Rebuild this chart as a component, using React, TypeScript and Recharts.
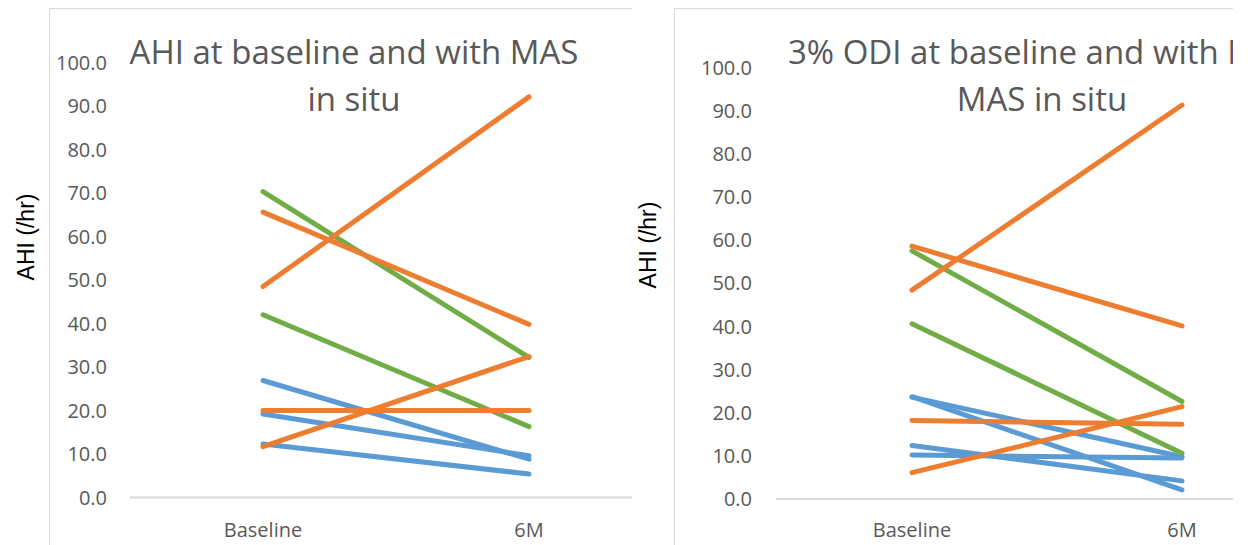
import { LineChart, Line, XAxis, YAxis } from 'recharts';

// ── Data ──────────────────────────────────────────────────────────────────────

const categories = ['Baseline', '6M'];
const yTicks = [0, 10, 20, 30, 40, 50, 60, 70, 80, 90, 100];

// AHI (/hr) per patient, baseline vs 6 months
const ahiBaseline = [26.9, 19.2, 12.3, 70.3, 42.0, 65.6, 48.5, 20.0, 11.7];
const ahi6M = [8.8, 9.6, 5.4, 32.2, 16.3, 39.8, 92.1, 20.0, 32.4];
const ahiGroup = ['A', 'A', 'A', 'B', 'B', 'C', 'C', 'C', 'C'];

// 3% ODI per patient, baseline vs 6 months
const odiBaseline = [23.7, 23.6, 12.4, 10.2, 57.5, 40.6, 48.4, 58.6, 18.2, 6.1];
const odi6M = [2.1, 9.8, 4.2, 9.5, 22.6, 10.6, 91.3, 40.1, 17.3, 21.4];
const odiGroup = ['A', 'A', 'A', 'A', 'B', 'B', 'C', 'C', 'C', 'C'];

// ── Styling ───────────────────────────────────────────────────────────────────

const GROUP_COLOR: Record<string, string> = {
  A: '#5B9BD5',
  B: '#70AD47',
  C: '#ED7D31',
};
const GROUP_ORDER = ['A', 'B', 'C'];
const BORDER = '#D9D9D9';
const TEXT = '#595959';
const FONT = '"Open Sans", sans-serif';

function toRows(base: number[], follow: number[]) {
  return categories.map((name, c) => {
    const row: Record<string, number | string> = { name };
    base.forEach((_, i) => {
      row[`p${i}`] = c === 0 ? base[i] : follow[i];
    });
    return row;
  });
}

interface PairedProps {
  base: number[];
  follow: number[];
  group: string[];
  width: number;
  top: number;
  axisWidth: number;
  xAxisHeight: number;
  padLeft: number;
  padRight: number;
  tickGap: number;
  xTickGap: number;
}

function PairedChart({
  base, follow, group, width, top, axisWidth, xAxisHeight, padLeft, padRight, tickGap, xTickGap,
}: PairedProps) {
  const rows = toRows(base, follow);
  // draw blue first, then green, orange on top
  const order = base
    .map((_, i) => i)
    .sort((a, b) => GROUP_ORDER.indexOf(group[a]) - GROUP_ORDER.indexOf(group[b]));

  return (
    <LineChart width={width} height={545} data={rows} margin={{ top, right: 0, bottom: 0, left: 0 }}>
      <XAxis
        dataKey="name"
        height={xAxisHeight}
        padding={{ left: padLeft, right: padRight }}
        axisLine={{ stroke: BORDER, strokeWidth: 2 }}
        tickLine={false}
        tickSize={0}
        tickMargin={xTickGap}
        tick={{ fill: TEXT, fontSize: 20, fontFamily: FONT }}
      />
      <YAxis
        width={axisWidth}
        domain={[0, 100]}
        ticks={yTicks}
        interval={0}
        axisLine={false}
        tickLine={false}
        tickSize={0}
        tickMargin={tickGap}
        tickFormatter={(v: number) => v.toFixed(1)}
        tick={{ fill: TEXT, fontSize: 20, fontFamily: FONT }}
      />
      {order.map((i) => (
        <Line
          key={i}
          type="linear"
          dataKey={`p${i}`}
          stroke={GROUP_COLOR[group[i]]}
          strokeWidth={5}
          strokeLinecap="round"
          dot={false}
          activeDot={false}
          isAnimationActive={false}
        />
      ))}
    </LineChart>
  );
}

const titleStyle: React.CSSProperties = {
  position: 'absolute',
  top: 28,
  width: 700,
  textAlign: 'center',
  fontFamily: FONT,
  fontSize: 33,
  lineHeight: '47px',
  color: TEXT,
  whiteSpace: 'nowrap',
};

export default function App() {
  return (
    <div
      style={{
        position: 'absolute', left: 0, top: 0, width: 1248, height: 545,
        background: '#fff', overflow: 'hidden',
      }}
    >
      {/* AHI panel */}
      <div style={{ position: 'absolute', left: 0, top: 0, width: 632, height: 545, overflow: 'hidden' }}>
        <PairedChart
          base={ahiBaseline} follow={ahi6M} group={ahiGroup}
          width={632} top={62.5} axisWidth={130} xAxisHeight={47.5}
          padLeft={133} padRight={103} tickGap={23} xTickGap={25}
        />
        <div style={{ ...titleStyle, left: 4 }}>
          AHI at baseline and with MAS<br />in situ
        </div>
      </div>

      {/* ODI panel */}
      <div style={{ position: 'absolute', left: 632, top: 0, width: 601, height: 545, overflow: 'hidden' }}>
        <PairedChart
          base={odiBaseline} follow={odi6M} group={odiGroup}
          width={601} top={67.5} axisWidth={144} xAxisHeight={46}
          padLeft={136} padRight={51} tickGap={24} xTickGap={24}
        />
        <div style={{ ...titleStyle, left: 60 }}>
          3% ODI at baseline and with MAS<br />MAS in situ
        </div>
      </div>

      {/* panel frames */}
      <div style={{ position: 'absolute', left: 49, top: 8, width: 583, height: 1, background: BORDER }} />
      <div style={{ position: 'absolute', left: 49, top: 8, width: 1, height: 537, background: BORDER }} />
      <div style={{ position: 'absolute', left: 674, top: 8, width: 559, height: 1, background: BORDER }} />
      <div style={{ position: 'absolute', left: 674, top: 8, width: 1, height: 537, background: BORDER }} />

      {/* y-axis titles */}
      <svg width={1248} height={545} style={{ position: 'absolute', left: 0, top: 0, pointerEvents: 'none' }}>
        <text
          x={34} y={237} transform="rotate(-90 34 237)" textAnchor="middle"
          fontFamily='"Liberation Sans", Arial, sans-serif' fontSize={23} fill="#000"
        >
          AHI (/hr)
        </text>
        <text
          x={656} y={245} transform="rotate(-90 656 245)" textAnchor="middle"
          fontFamily='"Liberation Sans", Arial, sans-serif' fontSize={23} fill="#000"
        >
          AHI (/hr)
        </text>
      </svg>
    </div>
  );
}
